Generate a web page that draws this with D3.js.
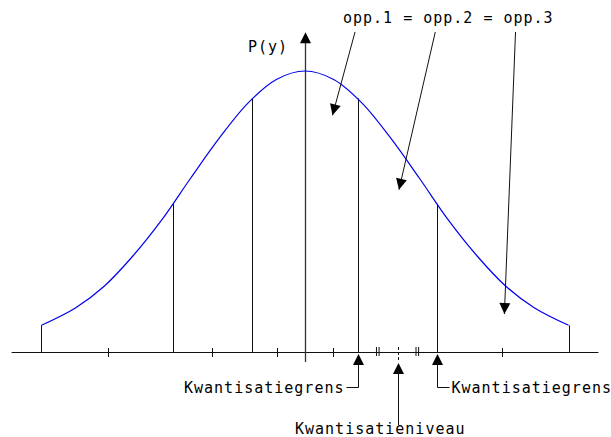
<!DOCTYPE html>
<html>
<head>
<meta charset="utf-8">
<script src="https://cdn.jsdelivr.net/npm/d3@7"></script>
<style>
  body { margin: 0; background: #fff; }
  svg { display: block; }
  .lbl { font-family: "DejaVu Sans Mono", monospace; font-size: 15px; letter-spacing: 1px; fill: #000; }
</style>
</head>
<body>
<div id="chart"></div>
<script>
// values (x in units of sigma, p = density)
const axisExtent = [-2.56, 2.56];
const axisTop = 0.455;
const curveX = [-2.3, -2.0, -1.75, -1.5, -1.25, -1.0, -0.75, -0.5, -0.25, 0, 0.25, 0.5, 0.75, 1.0, 1.25, 1.5, 1.75, 2.0, 2.3];
const curveP = [0.038, 0.063, 0.094, 0.137, 0.188, 0.247, 0.304, 0.354, 0.388, 0.400, 0.388, 0.354, 0.304, 0.247, 0.188, 0.137, 0.094, 0.063, 0.038];
const boundaries = [-2.30, -1.15, -0.46, 0.46, 1.15, 2.30];
const boundaryP = [0.038, 0.211, 0.361, 0.361, 0.211, 0.038];
const levels = [-1.72, -0.81, -0.24, 0.24, 0.81, 1.72];
const equalMarks = [0.635, 0.98];
const areaLabels = ['opp.1', 'opp.2', 'opp.3'];
const areaPointX = [0.24, 0.82, 1.74];
const areaPointP = [0.337, 0.231, 0.054];
const boundaryLabel = 'Kwantisatiegrens';
const levelLabel = 'Kwantisatieniveau';
const axisLabel = 'P(y)';

class QuantizerChart {

    constructor(_config = {}) {
        this.config = {
            parentElement: _config.parentElement,
            containerWidth: 611,
            containerHeight: 437,
            originX: 305,
            baseY: 352,
            peakY: 71,
            sigmaPx: 114.6,
            head: { length: 11, half: 5.5 }
        };
        this.initVis();
    }

    initVis() {
        let vis = this;
        let { parentElement, containerWidth, containerHeight, originX, baseY, peakY, sigmaPx } = vis.config;

        vis.svg = d3.select(parentElement).append('svg')
            .attr('width', containerWidth)
            .attr('height', containerHeight);

        vis.svg.append('rect')
            .attr('width', containerWidth)
            .attr('height', containerHeight)
            .attr('fill', '#fff');

        vis.x = d3.scaleLinear()
            .domain([-1, 1])
            .range([originX - sigmaPx, originX + sigmaPx]);

        vis.y = d3.scaleLinear()
            .domain([0, 0.4])
            .range([baseY, peakY]);

        vis.chart = vis.svg.append('g');
        vis.renderVis();
    }

    // triangle with its point at (tx,ty), coming from (fx,fy)
    arrowHead(fx, fy, tx, ty) {
        let { length, half } = this.config.head;
        const dx = tx - fx, dy = ty - fy;
        const len = Math.sqrt(dx * dx + dy * dy);
        const ux = dx / len, uy = dy / len;
        const bx = tx - ux * length, by = ty - uy * length;
        return `M${tx},${ty}L${bx - uy * half},${by + ux * half}L${bx + uy * half},${by - ux * half}Z`;
    }

    renderVis() {
        let vis = this;
        let { baseY } = vis.config;
        const x = vis.x, y = vis.y;
        const g = vis.chart;

        // horizontal axis
        g.append('line')
            .attr('x1', x(axisExtent[0])).attr('x2', x(axisExtent[1]))
            .attr('y1', baseY + 0.5).attr('y2', baseY + 0.5)
            .attr('stroke', '#111');

        // vertical axis with arrow
        const x0 = Math.round(x(0)) + 0.5;
        g.append('line')
            .attr('x1', x0).attr('x2', x0)
            .attr('y1', baseY + 10).attr('y2', y(axisTop) + 8)
            .attr('stroke', '#333').attr('stroke-width', 1.3);
        g.append('path')
            .attr('d', vis.arrowHead(x0, baseY, x0, y(axisTop)))
            .attr('fill', '#000');

        g.append('text')
            .attr('class', 'lbl')
            .attr('x', 248).attr('y', 52)
            .text(axisLabel);

        // quantisation boundaries
        g.selectAll('.bound')
            .data(boundaries)
            .join('line')
            .attr('class', 'bound')
            .attr('x1', d => Math.round(x(d)) + 0.5).attr('x2', d => Math.round(x(d)) + 0.5)
            .attr('y1', baseY)
            .attr('y2', (d, i) => y(boundaryP[i]))
            .attr('stroke', '#111');

        // density curve
        const line = d3.line()
            .x(d => x(d[0]))
            .y(d => y(d[1]))
            .curve(d3.curveCatmullRom);
        g.append('path')
            .datum(curveX.map((d, i) => [d, curveP[i]]))
            .attr('d', line)
            .attr('fill', 'none')
            .attr('stroke', '#0000ee')
            .attr('stroke-width', 1.2);

        // level ticks
        g.selectAll('.tick')
            .data(levels.filter(d => d !== 0.81))
            .join('line')
            .attr('class', 'tick')
            .attr('x1', d => Math.round(x(d)) + 0.5).attr('x2', d => Math.round(x(d)) + 0.5)
            .attr('y1', baseY - 4).attr('y2', baseY + 5)
            .attr('stroke', '#111');

        g.append('line')
            .attr('x1', Math.round(x(0.81)) + 0.5).attr('x2', Math.round(x(0.81)) + 0.5)
            .attr('y1', baseY - 5).attr('y2', baseY + 10)
            .attr('stroke', '#111')
            .attr('stroke-dasharray', '3,2');

        // equal distance marks
        equalMarks.forEach(m => {
            [-1.3, 1.3].forEach(o => {
                g.append('line')
                    .attr('x1', x(m) + o).attr('x2', x(m) + o)
                    .attr('y1', baseY - 5).attr('y2', baseY + 4)
                    .attr('stroke', '#111');
            });
        });

        // boundary pointers
        const tipY = baseY + 2;
        const elbowY = 387.5;
        [{ b: 0.46, dir: -1, anchor: 'end' }, { b: 1.15, dir: 1, anchor: 'start' }].forEach(p => {
            const bx = Math.round(x(p.b)) + 0.5;
            g.append('path')
                .attr('d', vis.arrowHead(bx, elbowY, bx, tipY))
                .attr('fill', '#000');
            g.append('path')
                .attr('d', `M${bx},${tipY + 8}V${elbowY}H${bx + p.dir * 12}`)
                .attr('fill', 'none')
                .attr('stroke', '#111');
            g.append('text')
                .attr('class', 'lbl')
                .attr('x', bx + p.dir * 14)
                .attr('y', 393)
                .attr('text-anchor', p.anchor)
                .text(boundaryLabel);
        });

        // level pointer
        const lx = Math.round(x(0.81)) + 0.5;
        g.append('path')
            .attr('d', vis.arrowHead(lx, 425, lx, baseY + 11))
            .attr('fill', '#000');
        g.append('line')
            .attr('x1', lx).attr('x2', lx)
            .attr('y1', baseY + 18).attr('y2', 425)
            .attr('stroke', '#111');
        g.append('text')
            .attr('class', 'lbl')
            .attr('x', 295).attr('y', 434)
            .text(levelLabel);

        // area labels with arrows
        const title = g.append('text')
            .attr('class', 'lbl')
            .attr('x', 343).attr('y', 23)
            .text(areaLabels.join(' = '));
        const node = title.node();
        let start = 0;
        areaLabels.forEach((lab, i) => {
            const sx = node.getStartPositionOfChar(start + 1).x + 2;
            const sy = 32;
            const tx = x(areaPointX[i]), ty = y(areaPointP[i]);
            g.append('line')
                .attr('x1', sx).attr('y1', sy)
                .attr('x2', tx).attr('y2', ty)
                .attr('stroke', '#111');
            g.append('path')
                .attr('d', vis.arrowHead(sx, sy, tx, ty))
                .attr('fill', '#000');
            start += lab.length + 3;
        });
    }
}

new QuantizerChart({ parentElement: '#chart' });
</script>
</body>
</html>
